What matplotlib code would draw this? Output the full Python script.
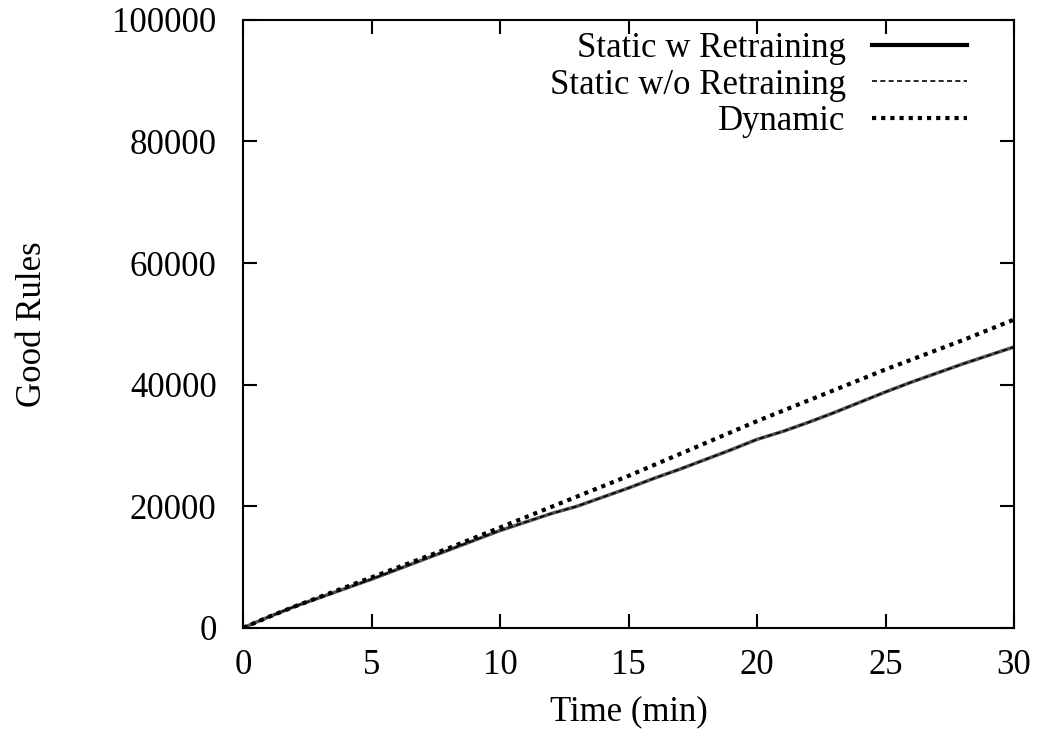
import matplotlib
matplotlib.use("Agg")
import matplotlib.pyplot as plt

# minutes
time_min = list(range(0, 31))

static_w_retrain = [0, 1800, 3500, 5000, 6500, 8000, 9600, 11200, 12800, 14400,
                    16000, 17400, 18800, 20000, 21500, 23000, 24600, 26100, 27700, 29300,
                    31000, 32300, 33800, 35400, 37100, 38800, 40400, 41900, 43400, 44800,
                    46200]
static_wo_retrain = [0, 1800, 3500, 5000, 6500, 8000, 9600, 11200, 12800, 14400,
                     16000, 17400, 18800, 20000, 21500, 23000, 24600, 26100, 27700, 29300,
                     31000, 32300, 33800, 35400, 37100, 38800, 40400, 41900, 43400, 44800,
                     46200]
dynamic = [0, 1800, 3500, 5100, 6700, 8300, 9900, 11500, 13100, 14800,
           16500, 18200, 19900, 21600, 23300, 25000, 26800, 28600, 30400, 32200,
           34000, 35700, 37400, 39100, 40800, 42500, 44100, 45700, 47300, 49000,
           50700]

x_ticks = [0, 5, 10, 15, 20, 25, 30]
y_ticks = [0, 20000, 40000, 60000, 80000, 100000]

plt.rcParams['font.family'] = ['Liberation Serif', 'DejaVu Serif']
plt.rcParams['font.size'] = 25

fig = plt.figure(figsize=(10.39, 7.36), dpi=100)
ax = fig.add_axes([0.234, 0.147, 0.742, 0.826])

ax.plot(time_min, static_w_retrain, color='#555555', linewidth=2.5, linestyle='-',
        label='Static w Retraining')
ax.plot(time_min, static_wo_retrain, color='black', linewidth=1.2, linestyle=(0, (3, 2)),
        label='Static w/o Retraining')
ax.plot(time_min, dynamic, color='black', linewidth=3, linestyle=(0, (1, 1.2)),
        label='Dynamic')

ax.set_xlim(0, 30)
ax.set_ylim(0, 100000)
ax.set_xticks(x_ticks)
ax.set_yticks(y_ticks)
ax.tick_params(direction='in', length=10, width=1.5, top=True, right=True, pad=15)
ax.tick_params(axis='y', pad=19)
for s in ax.spines.values():
    s.set_linewidth(1.5)

ax.set_xlabel('Time (min)', labelpad=10)
ax.set_ylabel('Good Rules', labelpad=46)

# gnuplot-style key: text right-aligned, sample to the right
leg = ax.legend(loc='upper right', bbox_to_anchor=(0.939, 0.98), frameon=False,
                markerfirst=False, handlelength=2.75, handletextpad=0.75,
                labelspacing=0.1, borderpad=0, borderaxespad=0)
leg.get_lines()[0].set_color('black')
leg.get_lines()[0].set_linewidth(3)

fig.savefig('out.png', dpi=100)
